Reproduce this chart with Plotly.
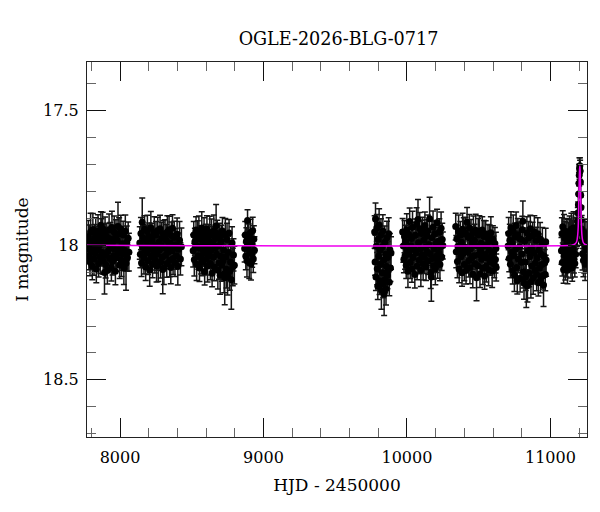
# OGLE-2026-BLG-0717 light curve with PSPL model, OGLE style
import plotly.graph_objects as go

TITLE = "OGLE-2026-BLG-0717"

# season 1
t1 = [7775, 7779, 7783, 7787, 7791, 7795, 7799, 7803, 7807, 7811,
      7815, 7819, 7823, 7827, 7831, 7835, 7839, 7843, 7847, 7851,
      7855, 7859, 7863, 7867, 7871, 7875, 7879, 7883, 7887, 7892,
      7896, 7900, 7904, 7908, 7912, 7916, 7920, 7924, 7928, 7932,
      7936, 7940, 7944, 7948, 7952, 7956, 7960, 7964, 7968, 7972,
      7976, 7980, 7986, 7990, 7994, 7998, 8002, 8006, 8010, 8014,
      8018, 8022, 8027, 8032, 8037, 8042, 8047, 8052, 8057, 8062]
m1 = [18.012, 17.968, 18.041, 17.985, 18.063, 17.951, 18.024, 17.996, 18.078, 17.942,
      18.005, 18.052, 17.973, 18.031, 17.958, 18.089, 17.991, 18.017, 17.947, 18.068,
      18.002, 17.979, 18.045, 17.926, 17.962, 18.027, 17.938, 18.058, 17.984, 18.101,
      17.955, 18.072, 18.036, 17.969, 18.094, 17.993, 18.021, 17.944, 18.049, 17.976,
      18.008, 18.083, 17.934, 18.061, 17.987, 18.039, 17.952, 18.015, 18.097, 17.966,
      18.047, 17.982, 17.931, 18.028, 17.958, 18.074, 18.011, 17.939, 18.056, 17.995,
      18.033, 17.961, 18.086, 18.019, 17.948, 18.067, 17.989, 18.047, 17.974, 18.026]
e1 = [0.05, 0.06, 0.05, 0.06, 0.05, 0.07, 0.05, 0.06, 0.05, 0.06,
      0.05, 0.06, 0.05, 0.06, 0.06, 0.05, 0.06, 0.05, 0.06, 0.05,
      0.06, 0.05, 0.06, 0.05, 0.06, 0.05, 0.06, 0.05, 0.06, 0.08,
      0.06, 0.05, 0.06, 0.05, 0.05, 0.06, 0.05, 0.06, 0.05, 0.06,
      0.05, 0.05, 0.06, 0.05, 0.06, 0.05, 0.06, 0.05, 0.05, 0.06,
      0.05, 0.06, 0.09, 0.05, 0.06, 0.05, 0.06, 0.05, 0.06, 0.05,
      0.06, 0.05, 0.06, 0.05, 0.06, 0.10, 0.06, 0.05, 0.06, 0.07]

# season 2
t2 = [8138, 8142, 8146, 8150, 8155, 8159, 8163, 8167, 8171, 8175,
      8179, 8183, 8187, 8191, 8195, 8199, 8203, 8207, 8211, 8215,
      8219, 8223, 8227, 8231, 8235, 8239, 8243, 8247, 8251, 8255,
      8259, 8263, 8267, 8271, 8275, 8279, 8283, 8287, 8291, 8295,
      8298, 8302, 8306, 8310, 8314, 8318, 8322, 8326, 8330, 8334,
      8338, 8342, 8346, 8350, 8354, 8358, 8362, 8366, 8370, 8374,
      8378, 8383, 8388, 8393, 8398, 8403, 8409, 8415, 8421, 8428]
m2 = [17.992, 18.034, 17.957, 18.066, 17.915, 18.008, 17.973, 18.047, 17.941, 18.019,
      18.081, 17.986, 18.028, 17.949, 18.059, 18.003, 17.968, 18.092, 18.014, 17.935,
      18.042, 17.979, 18.071, 17.997, 18.025, 17.954, 18.053, 18.009, 17.962, 18.077,
      18.033, 17.946, 18.075, 17.988, 18.018, 17.939, 18.062, 18.001, 17.975, 18.044,
      18.090, 17.958, 18.086, 18.011, 17.966, 18.037, 17.983, 18.069, 17.951, 18.026,
      18.004, 17.943, 18.057, 17.991, 18.083, 17.964, 18.022, 17.937, 18.049, 18.012,
      17.971, 18.066, 17.998, 18.039, 17.959, 18.078, 18.015, 17.982, 18.051, 18.006]
e2 = [0.06, 0.05, 0.06, 0.05, 0.09, 0.06, 0.05, 0.06, 0.05, 0.06,
      0.05, 0.06, 0.05, 0.06, 0.05, 0.06, 0.05, 0.06, 0.05, 0.06,
      0.05, 0.06, 0.05, 0.06, 0.05, 0.06, 0.05, 0.06, 0.05, 0.06,
      0.06, 0.05, 0.06, 0.05, 0.06, 0.05, 0.06, 0.05, 0.06, 0.05,
      0.09, 0.05, 0.06, 0.05, 0.06, 0.05, 0.06, 0.05, 0.06, 0.05,
      0.06, 0.05, 0.06, 0.05, 0.06, 0.05, 0.06, 0.05, 0.06, 0.05,
      0.06, 0.05, 0.06, 0.05, 0.06, 0.07, 0.06, 0.07, 0.06, 0.07]

# season 3
t3 = [8510, 8514, 8518, 8522, 8526, 8530, 8534, 8538, 8542, 8546,
      8550, 8554, 8558, 8562, 8566, 8570, 8574, 8578, 8582, 8586,
      8590, 8594, 8598, 8602, 8606, 8610, 8614, 8618, 8622, 8626,
      8630, 8634, 8638, 8642, 8646, 8650, 8654, 8658, 8662, 8666,
      8670, 8674, 8678, 8682, 8686, 8690, 8694, 8698, 8702, 8706,
      8710, 8714, 8718, 8722, 8726, 8730, 8734, 8738, 8742, 8746,
      8750, 8755, 8760, 8765, 8770, 8776, 8781, 8786, 8791, 8797]
m3 = [18.021, 17.962, 18.054, 17.987, 18.008, 17.944, 18.071, 18.003, 17.969, 18.039,
      17.952, 18.085, 18.012, 17.978, 18.047, 17.936, 18.063, 17.995, 18.029, 17.958,
      18.098, 18.016, 17.972, 18.051, 17.941, 18.077, 18.006, 17.984, 18.036, 17.953,
      18.068, 18.019, 17.963, 18.104, 17.991, 18.045, 17.948, 18.082, 18.011, 17.975,
      17.929, 18.034, 17.957, 18.093, 18.002, 18.066, 17.969, 18.112, 18.041, 17.986,
      18.074, 17.947, 18.058, 18.018, 18.107, 18.121, 17.961, 18.043, 18.089, 17.979,
      18.115, 18.027, 17.955, 18.097, 18.062, 18.128, 17.992, 18.081, 18.036, 18.074]
e3 = [0.06, 0.05, 0.06, 0.05, 0.06, 0.05, 0.06, 0.05, 0.06, 0.05,
      0.06, 0.05, 0.06, 0.05, 0.06, 0.06, 0.05, 0.06, 0.05, 0.06,
      0.05, 0.06, 0.05, 0.06, 0.05, 0.06, 0.05, 0.06, 0.05, 0.06,
      0.06, 0.05, 0.06, 0.05, 0.06, 0.05, 0.06, 0.05, 0.06, 0.05,
      0.08, 0.06, 0.05, 0.07, 0.06, 0.06, 0.05, 0.07, 0.06, 0.06,
      0.06, 0.05, 0.06, 0.05, 0.07, 0.10, 0.06, 0.05, 0.07, 0.06,
      0.07, 0.06, 0.05, 0.07, 0.06, 0.11, 0.06, 0.07, 0.06, 0.07]

# season 4 (short)
t4 = [8869, 8873, 8877, 8881, 8885, 8889, 8893, 8897, 8901, 8905,
      8909, 8913, 8917, 8921, 8925, 8929, 8933, 8937]
m4 = [18.012, 17.962, 18.041, 17.985, 18.058, 17.908, 18.003, 17.971, 18.064, 18.025,
      17.954, 18.069, 17.993, 18.032, 17.946, 18.051, 17.978, 18.019]
e4 = [0.05, 0.05, 0.05, 0.05, 0.06, 0.04, 0.05, 0.05, 0.06, 0.05,
      0.05, 0.06, 0.05, 0.05, 0.05, 0.05, 0.05, 0.05]

# season 5
t5 = [9775, 9778, 9781, 9784, 9787, 9790, 9793, 9797, 9800, 9803,
      9806, 9809, 9813, 9816, 9819, 9822, 9825, 9829, 9832, 9835,
      9838, 9841, 9845, 9848, 9851, 9854, 9857, 9861, 9864, 9867,
      9870, 9873, 9877, 9881, 9885, 9889]
m5 = [17.951, 18.062, 17.903, 18.118, 18.004, 17.936, 18.087, 18.152, 17.978, 18.041,
      17.925, 18.133, 18.019, 18.071, 17.962, 18.168, 18.008, 18.102, 17.947, 18.145,
      18.056, 18.181, 17.989, 18.127, 18.034, 18.162, 18.079, 17.971, 18.112, 18.046,
      18.094, 17.958, 18.138, 18.017, 18.085, 18.029]
e5 = [0.06, 0.05, 0.06, 0.05, 0.06, 0.05, 0.06, 0.05, 0.06, 0.05,
      0.06, 0.05, 0.06, 0.05, 0.06, 0.07, 0.06, 0.05, 0.06, 0.05,
      0.06, 0.08, 0.06, 0.05, 0.06, 0.06, 0.05, 0.06, 0.05, 0.06,
      0.05, 0.06, 0.05, 0.06, 0.05, 0.06]

# season 6
t6 = [9970, 9975, 9979, 9983, 9987, 9991, 9995, 9999, 10003, 10007,
      10011, 10015, 10019, 10023, 10027, 10031, 10035, 10039, 10043, 10047,
      10051, 10055, 10059, 10063, 10067, 10071, 10077, 10081, 10085, 10089,
      10093, 10097, 10101, 10105, 10109, 10113, 10117, 10121, 10125, 10129,
      10133, 10137, 10141, 10145, 10149, 10153, 10158, 10162, 10166, 10170,
      10174, 10178, 10182, 10186, 10190, 10194, 10198, 10202, 10206, 10210,
      10214, 10218, 10222, 10226, 10230, 10234, 10238, 10242, 10246, 10250]
m6 = [17.951, 18.003, 18.052, 17.968, 18.039, 17.986, 18.074, 17.943, 18.021, 18.097,
      17.959, 18.033, 17.912, 18.064, 18.002, 17.975, 18.088, 17.934, 18.046, 18.011,
      18.017, 18.109, 17.963, 18.029, 17.921, 18.078, 17.905, 17.991, 18.056, 17.939,
      18.014, 18.093, 17.957, 18.037, 17.946, 18.069, 17.982, 18.045, 17.927, 18.008,
      18.081, 17.966, 18.024, 17.948, 18.059, 17.997, 17.902, 18.032, 18.101, 18.118,
      17.971, 18.049, 17.933, 18.076, 18.013, 17.958, 18.087, 17.994, 18.041, 17.917,
      18.063, 17.985, 18.028, 17.952, 18.072, 18.006, 17.937, 18.044, 17.979, 18.001]
e6 = [0.05, 0.06, 0.05, 0.06, 0.05, 0.06, 0.05, 0.06, 0.05, 0.06,
      0.05, 0.06, 0.05, 0.06, 0.05, 0.06, 0.05, 0.06, 0.05, 0.06,
      0.06, 0.05, 0.06, 0.05, 0.06, 0.05, 0.075, 0.06, 0.05, 0.06,
      0.05, 0.06, 0.05, 0.06, 0.05, 0.06, 0.05, 0.06, 0.05, 0.06,
      0.05, 0.06, 0.05, 0.06, 0.05, 0.06, 0.08, 0.06, 0.06, 0.09,
      0.06, 0.05, 0.06, 0.05, 0.06, 0.05, 0.06, 0.05, 0.06, 0.05,
      0.06, 0.05, 0.06, 0.05, 0.06, 0.05, 0.06, 0.05, 0.06, 0.05]

# season 7
t7 = [10340, 10344, 10348, 10352, 10356, 10360, 10364, 10368, 10372, 10376,
      10380, 10384, 10388, 10392, 10396, 10400, 10404, 10408, 10412, 10419,
      10423, 10427, 10431, 10435, 10439, 10443, 10447, 10451, 10455, 10459,
      10463, 10467, 10471, 10475, 10479, 10485, 10489, 10493, 10497, 10501,
      10505, 10509, 10513, 10517, 10521, 10525, 10529, 10533, 10537, 10541,
      10545, 10549, 10553, 10557, 10561, 10565, 10569, 10573, 10577, 10581,
      10585, 10589, 10594, 10599, 10604, 10609, 10613, 10617, 10620, 10622]
m7 = [17.931, 18.024, 17.976, 18.061, 18.005, 17.948, 18.089, 18.017, 17.962, 18.043,
      17.989, 18.102, 17.941, 18.031, 17.958, 18.072, 18.009, 17.956, 18.094, 17.915,
      18.027, 17.971, 18.058, 17.936, 18.083, 18.013, 17.965, 18.047, 17.992, 18.108,
      17.952, 18.039, 17.982, 18.069, 17.945, 18.121, 18.003, 18.076, 17.961, 18.035,
      17.951, 18.107, 18.021, 17.993, 18.052, 17.944, 18.086, 18.003, 17.968, 18.114,
      18.035, 17.959, 18.077, 17.998, 18.048, 17.973, 18.091, 18.019, 17.985, 18.062,
      17.954, 18.041, 18.097, 17.978, 18.026, 18.071, 17.994, 18.053, 18.012, 18.083]
e7 = [0.05, 0.06, 0.05, 0.06, 0.05, 0.06, 0.05, 0.06, 0.05, 0.06,
      0.05, 0.05, 0.06, 0.05, 0.06, 0.06, 0.05, 0.06, 0.05, 0.055,
      0.06, 0.05, 0.06, 0.05, 0.06, 0.05, 0.06, 0.05, 0.06, 0.05,
      0.06, 0.05, 0.06, 0.05, 0.06, 0.085, 0.06, 0.05, 0.06, 0.05,
      0.06, 0.05, 0.06, 0.05, 0.06, 0.05, 0.06, 0.05, 0.06, 0.05,
      0.06, 0.05, 0.06, 0.05, 0.06, 0.05, 0.06, 0.05, 0.06, 0.05,
      0.06, 0.05, 0.06, 0.05, 0.06, 0.05, 0.06, 0.05, 0.06, 0.05]

# season 8
t8 = [10705, 10709, 10713, 10717, 10721, 10725, 10729, 10733, 10737, 10741,
      10745, 10749, 10753, 10757, 10761, 10765, 10769, 10773, 10777, 10781,
      10785, 10789, 10793, 10797, 10801, 10804, 10808, 10812, 10816, 10820,
      10824, 10828, 10832, 10836, 10840, 10844, 10848, 10852, 10856, 10860,
      10864, 10868, 10872, 10876, 10880, 10884, 10888, 10892, 10896, 10900,
      10904, 10908, 10912, 10916, 10920, 10924, 10928, 10932, 10936, 10940,
      10944, 10948, 10952, 10956, 10960, 10964, 10967, 10970]
m8 = [18.003, 17.957, 18.049, 17.982, 18.071, 17.936, 18.026, 17.991, 18.094, 17.948,
      18.038, 18.112, 17.969, 18.015, 17.927, 18.083, 18.131, 17.961, 18.052, 17.974,
      18.007, 18.124, 17.978, 18.063, 18.033, 17.943, 17.911, 18.099, 18.141, 17.986,
      18.062, 18.118, 18.146, 17.954, 18.151, 18.021, 17.972, 18.104, 18.043, 17.939,
      18.136, 18.012, 18.077, 17.965, 18.122, 18.029, 17.951, 18.094, 18.066, 17.983,
      18.109, 18.047, 17.958, 18.139, 18.018, 18.085, 17.976, 18.127, 18.034, 18.072,
      17.994, 18.113, 18.148, 18.041, 18.066, 18.109, 17.987, 18.055]
e8 = [0.05, 0.06, 0.05, 0.06, 0.05, 0.06, 0.05, 0.06, 0.05, 0.06,
      0.05, 0.06, 0.05, 0.06, 0.05, 0.06, 0.05, 0.06, 0.05, 0.06,
      0.06, 0.05, 0.06, 0.05, 0.06, 0.05, 0.075, 0.06, 0.06, 0.05,
      0.06, 0.05, 0.085, 0.06, 0.06, 0.05, 0.06, 0.05, 0.06, 0.05,
      0.06, 0.05, 0.06, 0.05, 0.06, 0.05, 0.06, 0.05, 0.06, 0.05,
      0.06, 0.05, 0.06, 0.05, 0.06, 0.05, 0.06, 0.05, 0.06, 0.05,
      0.06, 0.05, 0.08, 0.06, 0.05, 0.06, 0.05, 0.06]

# season 9, with the event near the right edge
t9 = [11077, 11080, 11083, 11086, 11089, 11092, 11095, 11098, 11101, 11104,
      11107, 11110, 11113, 11116, 11119, 11122, 11125, 11128, 11131, 11134,
      11137, 11140, 11143, 11146, 11149, 11152, 11155, 11158, 11161, 11164,
      11167, 11170, 11173, 11176, 11179, 11182, 11185,
      11187, 11189, 11191, 11193, 11195, 11197, 11199, 11201, 11203, 11205,
      11207, 11209, 11211, 11213, 11215, 11218,
      11221, 11224, 11227, 11230, 11233, 11236, 11239, 11242, 11245, 11248,
      11251, 11254]
m9 = [18.021, 17.958, 18.064, 17.932, 18.007, 18.091, 17.946, 18.038, 17.973, 18.079,
      18.012, 17.951, 18.058, 17.989, 18.093, 17.964, 18.031, 17.977, 18.047, 17.952,
      18.009, 17.963, 18.072, 17.941, 18.026, 18.084, 17.968, 18.015, 17.936, 18.053,
      17.992, 18.068, 17.957, 18.034, 17.975, 17.961, 17.944,
      17.950, 17.930, 17.910, 17.880, 17.850, 17.810, 17.770, 17.740, 17.715, 17.705,
      17.725, 17.765, 17.815, 17.860, 17.905, 17.940,
      17.985, 18.032, 17.962, 18.057, 17.991, 18.043, 17.955, 18.071, 18.008, 17.973,
      18.049, 18.016]
e9 = [0.05, 0.06, 0.05, 0.06, 0.05, 0.05, 0.06, 0.05, 0.06, 0.05,
      0.06, 0.05, 0.06, 0.05, 0.05, 0.06, 0.05, 0.06, 0.05, 0.06,
      0.05, 0.06, 0.05, 0.06, 0.05, 0.05, 0.06, 0.05, 0.06, 0.05,
      0.06, 0.05, 0.06, 0.05, 0.06, 0.05, 0.06,
      0.05, 0.05, 0.05, 0.04, 0.04, 0.04, 0.04, 0.04, 0.04, 0.03,
      0.04, 0.04, 0.04, 0.04, 0.05, 0.05,
      0.05, 0.06, 0.05, 0.06, 0.05, 0.06, 0.05, 0.06, 0.05, 0.06,
      0.05, 0.06]

# model curve
model_t = [7770, 11150, 11161, 11172, 11180, 11186, 11189, 11192, 11194, 11196,
           11198, 11200, 11201, 11203, 11205, 11207, 11209, 11211, 11213, 11215,
           11217, 11220, 11224, 11229, 11236, 11245, 11260]
model_m = [18.0, 18.0, 17.998, 17.995, 17.99, 17.98, 17.968, 17.95, 17.93, 17.89,
           17.83, 17.78, 17.756, 17.72, 17.706, 17.72, 17.767, 17.82, 17.867, 17.91,
           17.94, 17.965, 17.98, 17.99, 17.995, 17.998, 18.0]

seasons = [(t1, m1, e1), (t2, m2, e2), (t3, m3, e3), (t4, m4, e4), (t5, m5, e5),
           (t6, m6, e6), (t7, m7, e7), (t8, m8, e8), (t9, m9, e9)]
hjd, mag, err = [], [], []
for t, m, e in seasons:
    assert len(t) == len(m) == len(e), (len(t), len(m), len(e))
    hjd += t
    mag += m
    err += e

FONT = "DejaVu Serif"

fig = go.Figure()
fig.add_trace(go.Scatter(
    x=hjd, y=mag, mode="markers",
    marker=dict(color="black", size=7),
    error_y=dict(type="data", array=err, visible=True, color="#151515",
                 thickness=1.5, width=3),
    showlegend=False,
))
fig.add_trace(go.Scatter(
    x=model_t, y=model_m, mode="lines",
    line=dict(color="#ee00ee", width=1.5, shape="spline", smoothing=0.6),
    showlegend=False,
))

axis_common = dict(
    showgrid=False, zeroline=False, showline=True, linecolor="#222222", linewidth=1.3,
    mirror="ticks", ticks="inside", ticklen=19, tickwidth=1.2, tickcolor="#111111",
    tickfont=dict(family=FONT, size=16, color="black"), automargin=False,
)

fig.update_xaxes(
    range=[7770, 11255], dtick=1000, tick0=0, tickformat="d",
    minor=dict(dtick=200, ticklen=9, ticks="inside", tickcolor="#666666", tickwidth=1.2),
    ticklabelstandoff=6,
    title=dict(text="HJD - 2450000", font=dict(family=FONT, size=17, color="black"),
               standoff=12),
    **axis_common,
)
fig.update_yaxes(
    range=[18.712, 17.32], dtick=0.5, tick0=0, tickformat="~g",
    minor=dict(dtick=0.1, ticklen=9, ticks="inside", tickcolor="#666666", tickwidth=1.2),
    ticklabelstandoff=4,
    title=dict(text="I magnitude", font=dict(family=FONT, size=17, color="black"),
               standoff=10),
    **axis_common,
)

# the page adds an 8 px body margin, so the figure is a bit smaller than the window
fig.update_layout(
    width=592, height=504,
    margin=dict(l=79, r=13, t=54, b=75),
    paper_bgcolor="white", plot_bgcolor="white",
    title=dict(text=TITLE, x=0.5583, xanchor="center", y=0.9385, yanchor="middle",
               font=dict(family=FONT, size=17.6, color="black")),
    font=dict(family=FONT, color="black"),
)

fig.write_html("out.html")
